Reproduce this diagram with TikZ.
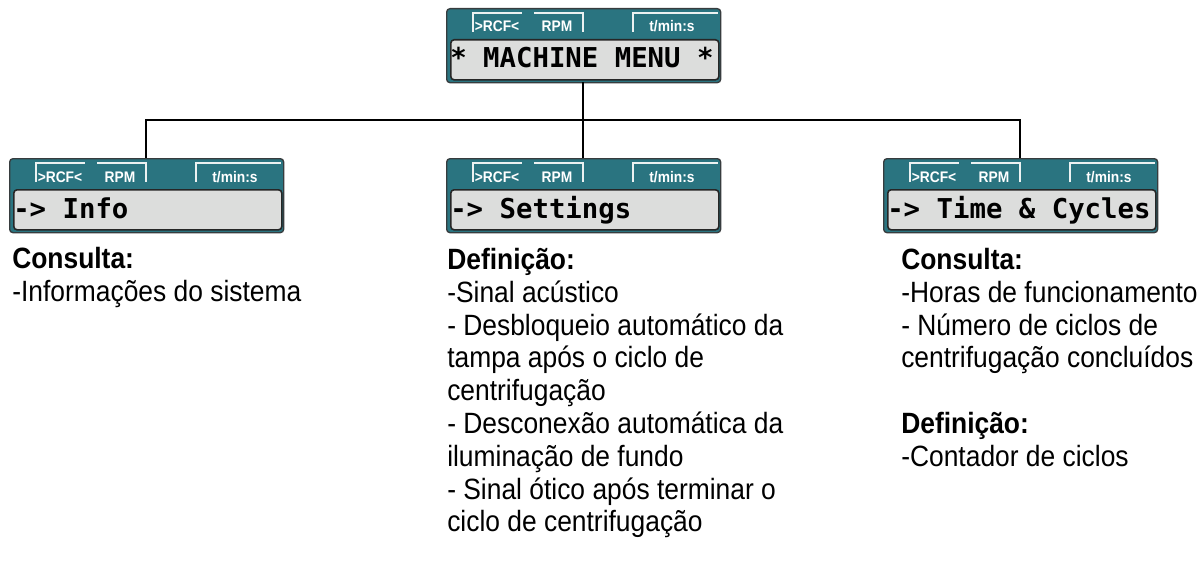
\documentclass[tikz,border=0pt]{standalone}
\usepackage{fontspec}
\setmainfont{Liberation Sans}
\newfontfamily\narrowfont[FakeStretch=0.9]{Liberation Sans}
\newfontfamily\lcdfont{DejaVu Sans Mono}
\definecolor{panelteal}{RGB}{42,116,128}
\definecolor{panelborder}{RGB}{55,60,62}
\definecolor{lcdgray}{RGB}{220,221,220}
\definecolor{tabwhite}{RGB}{236,242,242}
\tikzset{
  panel/.style={draw=panelborder, line width=1pt, fill=panelteal, rounded corners=2.5pt,
    minimum width=274*0.75pt, minimum height=74*0.75pt, inner sep=0pt},
  screen/.style={draw=black!85, line width=1.2pt, fill=lcdgray, rounded corners=2.5pt,
    minimum width=268*0.75pt, minimum height=40*0.75pt, inner sep=0pt},
  tabline/.style={draw=tabwhite, line width=1.8pt},
  tablabel/.style={text=white, font=\narrowfont\fontsize{11.5}{12}\selectfont\bfseries, inner sep=0pt, anchor=base},
  lcdtext/.style={font=\lcdfont\fontsize{20.5}{22}\selectfont\bfseries, inner sep=0pt, anchor=base west},
  conn/.style={draw=black, line width=2pt},
  desc/.style={font=\narrowfont\fontsize{22}{24.6}\selectfont, align=left, inner sep=0pt, anchor=north west}
}
\newcommand\lcdpanel[4]{%
  \node[panel, anchor=north west] (#1) at (#2,#3) {};
  \node[screen, anchor=north west] (#1-lcd) at (#2+4,#3+31) {};
  \draw[tabline] (#2+27,#3+24) -- (#2+27,#3+5) -- (#2+76,#3+5);
  \draw[tabline] (#2+88,#3+5) -- (#2+137,#3+5) -- (#2+137,#3+24);
  \draw[tabline] (#2+187,#3+24) -- (#2+187,#3+5) -- (#2+272,#3+5);
  \node[tablabel] (#1-rcf) at (#2+51,#3+24) {>RCF<};
  \node[tablabel] (#1-rpm) at (#2+111,#3+24) {RPM};
  \node[tablabel] (#1-tim) at (#2+226,#3+24) {t/min:s};
  \node[lcdtext] (#1-txt) at (#2+4,#3+60) {#4};
  \coordinate (#1-in) at (#2+137,#3);
  \coordinate (#1-out) at (#2+137,#3+74);
}
\begin{document}
\begin{tikzpicture}[x=0.75pt,y=-0.75pt]
\useasboundingbox (0,0) rectangle (1201,567);
\lcdpanel{top}{446}{8}{* MACHINE MENU *}
\lcdpanel{left}{9}{158}{-> Info}
\lcdpanel{mid}{446}{158}{-> Settings}
\lcdpanel{right}{883}{158}{-> Time \& Cycles}
\coordinate (bus) at (583,120);
\draw[conn] (top-out) -- (mid-in);
\draw[conn] (left-in) |- (bus) -| (right-in);
\node[desc] (leftdesc) at (12,247) {\textbf{Consulta:}\\-Informações do sistema};
\node[desc] (middesc) at (447,248) {\textbf{Definição:}\\-Sinal acústico\\- Desbloqueio automático da\\tampa após o ciclo de\\centrifugação\\- Desconexão automática da\\iluminação de fundo\\- Sinal ótico após terminar o\\ciclo de centrifugação};
\node[desc] (rightdesc) at (901,248) {\textbf{Consulta:}\\-Horas de funcionamento\\- Número de ciclos de\\centrifugação concluídos\\[24.6pt]\textbf{Definição:}\\-Contador de ciclos};
\end{tikzpicture}
\end{document}
